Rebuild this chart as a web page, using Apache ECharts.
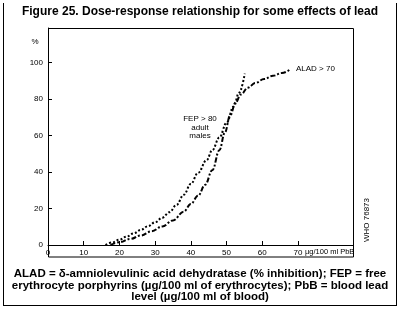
<!DOCTYPE html>
<html>
<head>
<meta charset="utf-8">
<script src="https://cdn.jsdelivr.net/npm/echarts@6/dist/echarts.min.js"></script>
<style>
html,body{margin:0;padding:0;background:#fff;}
#chart{width:400px;height:325px;}
</style>
</head>
<body>
<div id="chart"></div>
<script>
// ---- data ----
const xTickValues = [0, 10, 20, 30, 40, 50, 60, 70];
const yTickValues = [0, 20, 40, 60, 80, 100];
const fepDose = [16.1, 18, 20, 22, 24, 26, 28, 30, 32, 34, 36, 38, 40, 42, 44.4, 46, 48, 50, 52, 53.5, 55.1];
const fepResp = [0, 1.4, 2.9, 4.6, 6.4, 8.3, 10.3, 12.5, 15, 18, 22, 27.5, 33.5, 39.5, 46.5, 52, 59, 67, 76, 83.5, 94];
const aladDose = [17.5, 20, 23, 26, 29, 32, 35, 38, 40, 42, 44, 46, 48, 49.5, 51, 52.5, 54, 56, 58, 60.5, 63, 65.5, 67.8];
const aladResp = [0, 1.5, 3.3, 5.2, 7.5, 10.2, 13.5, 18.3, 22.5, 27, 33, 41, 52, 61.5, 71, 78, 82.5, 86.3, 88.8, 91, 92.8, 94.3, 96.3];
const titleText = 'Figure 25. Dose-response relationship for some effects of lead';
const captionLines = [
  'ALAD = \u03b4-amniolevulinic acid dehydratase (% inhibition); FEP = free',
  'erythrocyte porphyrins (\u00b5g/100 ml of erythrocytes); PbB = blood lead',
  'level (\u00b5g/100 ml of blood)'
];
const xUnitText = '\u00b5g/100 ml PbB';
const fepLabel = ['FEP > 80', 'adult', 'males'];
const aladLabel = 'ALAD > 70';
const codeText = 'WHO 76873';

const FONT = '"Liberation Sans", Arial, sans-serif';
const chart = echarts.init(document.getElementById('chart'), null, {renderer: 'canvas'});

function zip(a, b) { return a.map((v, i) => [v, b[i]]); }

const black = '#000';
const graphics = [
  {type: 'text', left: 'center', top: 6, style: {text: titleText, font: 'bold 12px ' + FONT, fill: black}},
  {type: 'line', shape: {x1: 3.5, y1: 3, x2: 3.5, y2: 305.5}, style: {stroke: black, lineWidth: 1}},
  {type: 'line', shape: {x1: 396.5, y1: 3, x2: 396.5, y2: 305.5}, style: {stroke: black, lineWidth: 1}},
  {type: 'line', shape: {x1: 3, y1: 305.5, x2: 397, y2: 305.5}, style: {stroke: black, lineWidth: 1}},
  {type: 'rect', shape: {x: 48.5, y: 28.5, width: 305, height: 228.5}, style: {stroke: black, fill: null, lineWidth: 1}},
  {type: 'text', x: 200, y: 268.5, style: {text: captionLines.join('\n'), font: 'bold 11.5px ' + FONT, fill: black, align: 'center', lineHeight: 11.5}},
  {type: 'text', x: 35, y: 38, style: {text: '%', font: '8px ' + FONT, fill: black, align: 'center'}},
  {type: 'text', x: 305, y: 248, style: {text: xUnitText, font: '7.5px ' + FONT, fill: black}},
  {type: 'text', x: 200, y: 115, style: {text: fepLabel.join('\n'), font: '8px ' + FONT, fill: black, align: 'center', lineHeight: 8.5}},
  {type: 'text', x: 296, y: 65, style: {text: aladLabel, font: '8px ' + FONT, fill: black}},
  {type: 'text', x: 367, y: 220, rotation: Math.PI / 2, style: {text: codeText, font: '8px ' + FONT, fill: black, align: 'center', verticalAlign: 'middle'}}
];

const option = {
  animation: false,
  backgroundColor: '#fff',
  grid: {left: 48, right: 47, top: 28, bottom: 80},
  xAxis: {
    type: 'value', min: 0, max: 85.4, interval: 10,
    axisLine: {show: true, onZero: false, lineStyle: {color: black, width: 1}},
    axisTick: {show: true, inside: true, length: 4, lineStyle: {color: black}, customValues: xTickValues.filter(v => v > 0)},
    axisLabel: {customValues: xTickValues, fontSize: 8, fontFamily: FONT, color: black, margin: 4,
      formatter: v => (v <= 70 ? String(v) : '')},
    splitLine: {show: false}
  },
  yAxis: {
    type: 'value', min: 0, max: 119, interval: 20,
    axisLine: {show: true, onZero: false, lineStyle: {color: black, width: 1}},
    axisTick: {show: true, inside: true, length: 4, lineStyle: {color: black}, customValues: yTickValues.filter(v => v > 0)},
    axisLabel: {customValues: yTickValues, fontSize: 8, fontFamily: FONT, color: black, margin: 5,
      formatter: v => (v <= 100 ? String(v) : '')},
    splitLine: {show: false}
  },
  series: [
    {
      name: 'FEP', type: 'line', smooth: 0.4, smoothMonotone: 'x', showSymbol: false,
      data: zip(fepDose, fepResp),
      lineStyle: {color: black, width: 2, type: [2, 2], cap: 'butt'}
    },
    {
      name: 'ALAD', type: 'line', smooth: 0.4, smoothMonotone: 'x', showSymbol: false,
      data: zip(aladDose, aladResp),
      lineStyle: {color: black, width: 2, type: [5, 2, 2, 2], cap: 'butt'}
    }
  ],
  graphic: graphics
};
chart.setOption(option);
</script>
</body>
</html>
